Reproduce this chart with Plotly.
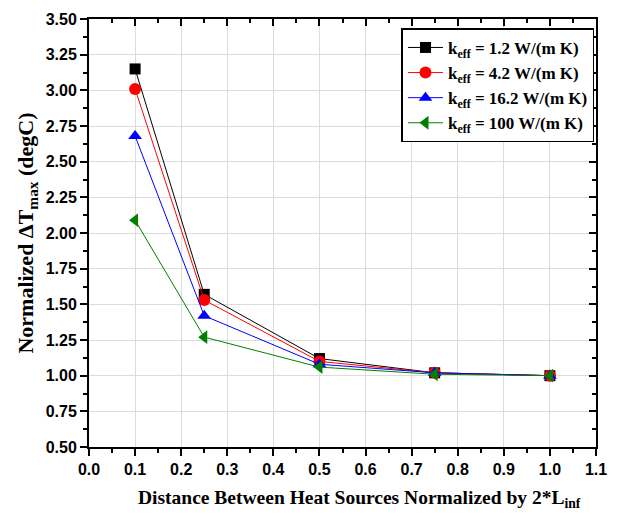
import plotly.graph_objects as go

x_vals = [0.1, 0.25, 0.5, 0.75, 1.0]
k12 = [3.15, 1.57, 1.12, 1.02, 1.00]
k42 = [3.01, 1.53, 1.10, 1.02, 1.00]
k162 = [2.68, 1.42, 1.08, 1.02, 1.00]
k100 = [2.09, 1.27, 1.06, 1.01, 1.00]

names = ["k<sub>eff</sub> = 1.2 W/(m K)", "k<sub>eff</sub> = 4.2 W/(m K)",
         "k<sub>eff</sub> = 16.2 W/(m K)", "k<sub>eff</sub> = 100 W/(m K)"]
series = [k12, k42, k162, k100]
colors = ["#000000", "#ff0000", "#0000ff", "#008000"]
symbols = ["square", "circle", "triangle-up", "triangle-left"]
sizes = [11, 12, 12, 12]

fig = go.Figure()
for n, s, c, sym, sz in zip(names, series, colors, symbols, sizes):
    fig.add_trace(go.Scatter(x=x_vals, y=s, name=n, mode="lines+markers",
                             line=dict(color=c, width=1),
                             marker=dict(symbol=sym, color=c, size=sz)))

# invisible trace for mirrored inner-tick axes
fig.add_trace(go.Scatter(x=[0.5], y=[2.0], xaxis="x2", yaxis="y2", mode="markers",
                         marker=dict(opacity=0), showlegend=False, hoverinfo="skip"))

tickfont = dict(family="Liberation Sans, Arial", size=16, color="black", weight="bold")

fig.update_layout(
    width=631, height=519,
    margin=dict(l=89, r=35, t=19, b=72),
    paper_bgcolor="white", plot_bgcolor="white",
    xaxis=dict(range=[0, 1.1], dtick=0.1, tick0=0, tickformat=".1f",
               showline=True, linecolor="black", linewidth=2,
               ticks="outside", ticklen=7, tickwidth=2, tickcolor="black",
               minor=dict(ticks="outside", ticklen=4, tickwidth=1.5, dtick=0.05, tickcolor="black", showgrid=False),
               showgrid=True, gridcolor="#dcdcdc", gridwidth=1, zeroline=False,
               tickfont=tickfont, automargin=False),
    yaxis=dict(range=[0.5, 3.5], dtick=0.25, tick0=0.5, tickformat=".2f",
               showline=True, linecolor="black", linewidth=2,
               ticks="outside", ticklen=7, tickwidth=2, tickcolor="black",
               minor=dict(ticks="outside", ticklen=4, tickwidth=1.5, dtick=0.125, tickcolor="black", showgrid=False),
               showgrid=True, gridcolor="#dcdcdc", gridwidth=1, zeroline=False,
               tickfont=tickfont, automargin=False,
               title=dict(text="Normalized \u0394T<sub>max</sub> (degC)",
                          font=dict(family="Liberation Serif, Times New Roman", size=22, color="black", weight="bold"),
                          standoff=6)),
    xaxis2=dict(range=[0, 1.1], dtick=0.1, tick0=0, overlaying="x", side="top",
                showline=True, linecolor="black", linewidth=2,
                ticks="inside", ticklen=7, tickwidth=2, tickcolor="black",
                minor=dict(ticks="inside", ticklen=4, tickwidth=1.5, dtick=0.05, tickcolor="black", showgrid=False),
                showticklabels=False, showgrid=False, zeroline=False, automargin=False),
    yaxis2=dict(range=[0.5, 3.5], dtick=0.25, tick0=0.5, overlaying="y", side="right",
                showline=True, linecolor="black", linewidth=2,
                ticks="inside", ticklen=7, tickwidth=2, tickcolor="black",
                minor=dict(ticks="inside", ticklen=4, tickwidth=1.5, dtick=0.125, tickcolor="black", showgrid=False),
                showticklabels=False, showgrid=False, zeroline=False, automargin=False),
    legend=dict(x=0.997, y=0.978, xanchor="right", yanchor="top",
                bordercolor="black", borderwidth=1.5, bgcolor="white",
                font=dict(family="Liberation Serif, Times New Roman", size=17, color="black", weight="bold"),
                tracegroupgap=0, itemwidth=35),
    showlegend=True,
    annotations=[dict(text="Distance Between Heat Sources Normalized by 2*L<sub>inf</sub>",
                      xref="paper", yref="paper", x=0.534, y=-0.122, xanchor="center", yanchor="middle",
                      showarrow=False,
                      font=dict(family="Liberation Serif, Times New Roman", size=19.5, color="black", weight="bold"))],
)

fig.write_html("out.html")
